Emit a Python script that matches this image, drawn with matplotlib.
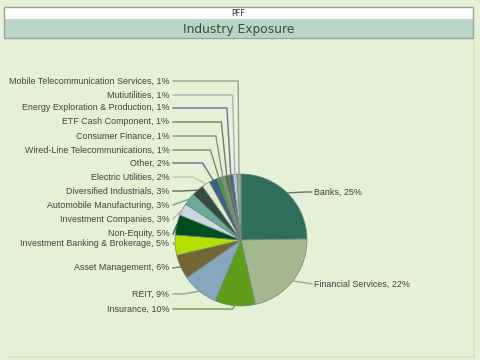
import matplotlib
matplotlib.use("Agg")
import matplotlib.pyplot as plt
from matplotlib.patches import Rectangle
import numpy as np
import matplotlib.colors as mcolors

# ---- data ----
categories = ["Banks", "Financial Services", "Insurance", "REIT", "Asset Management",
              "Investment Banking & Brokerage", "Non-Equity", "Investment Companies",
              "Automobile Manufacturing", "Diversified Industrials", "Electric Utilities",
              "Other", "Wired-Line Telecommunications", "Consumer Finance",
              "ETF Cash Component", "Energy Exploration & Production", "Mutiutilities",
              "Mobile Telecommunication Services"]
values = [25, 22, 10, 9, 6, 5, 5, 3, 3, 3, 2, 2, 1, 1, 1, 1, 1, 1]
colors = ["#2f6e5a", "#a2b88e", "#5e9e1a", "#87a8bc", "#726634", "#b2e000",
          "#004d1f", "#c8d8de", "#6aaa98", "#354a3e", "#dcecd0", "#3f5f80",
          "#4a9a3a", "#8a8a8a", "#4f7a3a", "#5a5a9a", "#a8d0d8", "#9aa890"]
# label vertical layout (pixel rows from top)
label_rows = [192, 284, 309, 294, 268, 243, 234, 219, 205, 191, 177, 163,
              150, 136, 122, 108, 95, 81]

W, H = 480, 360
BG = "#e5f1d6"
fig = plt.figure(figsize=(4.8, 3.6), dpi=100)
fig.patch.set_facecolor(BG)
ax = fig.add_axes([0, 0, 1, 1])
ax.set_facecolor(BG)

def Y(py):
    return H - py

cx, cy, r = 241, Y(240), 66
wedges, _ = ax.pie(values, colors=colors, startangle=90, counterclock=False,
                   center=(cx, cy), radius=r, frame=True,
                   wedgeprops=dict(edgecolor="#74847a", linewidth=0.5))

total = float(sum(values))
cum = 0.0
for i, (cat, v) in enumerate(zip(categories, values)):
    mid = 90 - 360 * (cum + v / 2) / total
    cum += v
    t = np.deg2rad(mid)
    ex, ey = cx + r * np.cos(t), cy + r * np.sin(t)
    elx = cx + (r + 25) * np.cos(t)
    ly = Y(label_rows[i])
    base = np.array(mcolors.to_rgb(colors[i]))
    lc = base * 0.6 + np.array([0.55, 0.58, 0.55]) * 0.4
    if np.cos(t) >= 0:
        xs = [ex, max(elx, ex), 312.5]
        ax.plot(xs, [ey, ly, ly], color=lc, lw=1.0, solid_capstyle="butt")
        ax.text(314, ly, f"{cat}, {v}%", ha="left", va="center",
                fontsize=6.4, family="Liberation Sans", color="#404040")
    else:
        if elx > 173:
            ax.plot([173, elx, ex], [ly, ly, ey], color=lc, lw=1.0)
        else:
            ax.plot([173, ex], [ly, ey], color=lc, lw=1.0)
        ax.text(169.5, ly, f"{cat}, {v}%", ha="right", va="center",
                fontsize=6.4, family="Liberation Sans", color="#404040")

# title box
ax.add_patch(Rectangle((4, Y(19)), 469, 12, facecolor="white", edgecolor="none", zorder=3))
ax.add_patch(Rectangle((4, Y(38)), 469, 19, facecolor="#bcd4c4", edgecolor="none", zorder=3))
ax.add_patch(Rectangle((4, Y(38)), 469, 31, facecolor="none", edgecolor="#9aa49a", lw=1.0, zorder=4))
ax.text(238.5, Y(13.5), "PFF", ha="center", va="center", fontsize=5.8,
        family="DejaVu Sans", color="#333333", zorder=5)
ax.text(238.5, Y(29), "Industry Exposure", ha="center", va="center", fontsize=8.8,
        family="DejaVu Sans", color="#2a5538", zorder=5)

# faint panel shadow
ax.plot([473.5, 473.5], [Y(42), Y(357)], color="#d6e4c6", lw=1.2)
ax.plot([9, 473.5], [Y(357), Y(357)], color="#d6e4c6", lw=1.2)

ax.set_xlim(0, W)
ax.set_ylim(0, H)
ax.set_aspect("equal")
ax.axis("off")
fig.savefig("out.png", dpi=100, facecolor=BG)
